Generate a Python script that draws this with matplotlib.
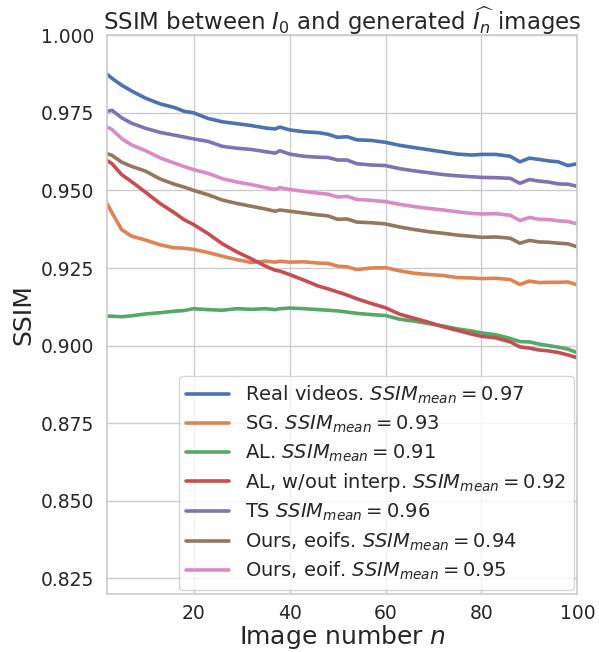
import numpy as np
import matplotlib
matplotlib.use('Agg')
import matplotlib.pyplot as plt
import seaborn as sns

# image index n (at these points)
n = [2, 3, 5, 7, 10, 13, 16, 18, 20, 23, 26, 29, 32, 35, 37, 38, 40, 43, 46, 48,
     50, 52, 54, 57, 60, 63, 66, 69, 72, 75, 78, 80, 83, 86, 88, 90, 92, 94, 96, 98, 100]

real_videos = [0.9874, 0.9861, 0.9839, 0.9821, 0.9797, 0.9779, 0.9767, 0.9755, 0.9750, 0.9732,
               0.9721, 0.9715, 0.9709, 0.9701, 0.9698, 0.9704, 0.9695, 0.9689, 0.9686, 0.9681,
               0.9671, 0.9673, 0.9663, 0.9661, 0.9655, 0.9645, 0.9638, 0.9631, 0.9624, 0.9617,
               0.9614, 0.9616, 0.9616, 0.9610, 0.9592, 0.9604, 0.9600, 0.9595, 0.9592, 0.9580, 0.9586]
sg = [0.9457, 0.9428, 0.9374, 0.9353, 0.9340, 0.9325, 0.9315, 0.9314, 0.9310, 0.9300,
      0.9288, 0.9277, 0.9268, 0.9272, 0.9269, 0.9272, 0.9269, 0.9270, 0.9266, 0.9265,
      0.9256, 0.9254, 0.9245, 0.9250, 0.9251, 0.9241, 0.9233, 0.9229, 0.9226, 0.9219,
      0.9218, 0.9216, 0.9217, 0.9213, 0.9197, 0.9208, 0.9203, 0.9204, 0.9204, 0.9205, 0.9196]
al = [0.9095, 0.9095, 0.9093, 0.9096, 0.9102, 0.9106, 0.9111, 0.9113, 0.9119, 0.9116,
      0.9114, 0.9119, 0.9117, 0.9119, 0.9116, 0.9119, 0.9121, 0.9119, 0.9116, 0.9114,
      0.9112, 0.9108, 0.9104, 0.9100, 0.9097, 0.9085, 0.9079, 0.9071, 0.9063, 0.9054,
      0.9047, 0.9041, 0.9035, 0.9023, 0.9013, 0.9012, 0.9005, 0.9000, 0.8995, 0.8989, 0.8977]
al_no_interp = [0.9596, 0.9586, 0.9551, 0.9529, 0.9494, 0.9458, 0.9428, 0.9406, 0.9390, 0.9361,
                0.9328, 0.9302, 0.9280, 0.9256, 0.9243, 0.9240, 0.9229, 0.9211, 0.9192, 0.9183,
                0.9173, 0.9163, 0.9151, 0.9136, 0.9122, 0.9101, 0.9088, 0.9075, 0.9061, 0.9049,
                0.9037, 0.9030, 0.9025, 0.9012, 0.8996, 0.8992, 0.8986, 0.8983, 0.8978, 0.8970, 0.8961]
ts = [0.9755, 0.9758, 0.9734, 0.9717, 0.9700, 0.9687, 0.9678, 0.9672, 0.9666, 0.9658,
      0.9642, 0.9636, 0.9632, 0.9625, 0.9620, 0.9628, 0.9617, 0.9610, 0.9607, 0.9606,
      0.9598, 0.9598, 0.9586, 0.9582, 0.9580, 0.9570, 0.9563, 0.9557, 0.9551, 0.9547,
      0.9544, 0.9542, 0.9541, 0.9539, 0.9523, 0.9535, 0.9530, 0.9527, 0.9521, 0.9520, 0.9513]
ours_eoifs = [0.9618, 0.9613, 0.9591, 0.9578, 0.9562, 0.9537, 0.9520, 0.9511, 0.9500, 0.9486,
              0.9469, 0.9458, 0.9449, 0.9440, 0.9433, 0.9437, 0.9433, 0.9427, 0.9421, 0.9418,
              0.9407, 0.9408, 0.9398, 0.9396, 0.9392, 0.9382, 0.9374, 0.9367, 0.9362, 0.9356,
              0.9352, 0.9349, 0.9350, 0.9346, 0.9330, 0.9339, 0.9334, 0.9333, 0.9330, 0.9328, 0.9318]
ours_eoif = [0.9704, 0.9696, 0.9667, 0.9647, 0.9628, 0.9605, 0.9588, 0.9577, 0.9567, 0.9555,
             0.9538, 0.9527, 0.9519, 0.9509, 0.9503, 0.9509, 0.9503, 0.9497, 0.9491, 0.9488,
             0.9479, 0.9481, 0.9471, 0.9468, 0.9464, 0.9455, 0.9448, 0.9442, 0.9437, 0.9431,
             0.9426, 0.9424, 0.9425, 0.9420, 0.9403, 0.9413, 0.9407, 0.9406, 0.9402, 0.9400, 0.9392]

series = [real_videos, sg, al, al_no_interp, ts, ours_eoifs, ours_eoif]
labels = [r'Real videos. $SSIM_{mean} = 0.97$',
          r'SG. $SSIM_{mean} = 0.93$',
          r'AL. $SSIM_{mean} = 0.91$',
          r'AL, w/out interp. $SSIM_{mean} = 0.92$',
          r'TS $SSIM_{mean} = 0.96$',
          r'Ours, eoifs. $SSIM_{mean} = 0.94$',
          r'Ours, eoif. $SSIM_{mean} = 0.95$']

sns.set_theme(style='whitegrid')
colors = sns.color_palette('deep')

fig = plt.figure(figsize=(5.99, 6.52), dpi=100)
ax = fig.add_axes([0.179, 0.089, 0.785, 0.857])

for i, s in enumerate(series):
    ax.plot(n, s, color=colors[i], linewidth=2.6, label=labels[i])

ax.set_xlim(2, 100)
ax.set_ylim(0.82, 1.0)
ax.set_xticks([20, 40, 60, 80, 100])
ax.set_yticks(np.arange(0.825, 1.0001, 0.025))
ax.tick_params(labelsize=13.5)
ax.tick_params(axis='x', pad=1.5)
ax.yaxis.set_major_formatter(matplotlib.ticker.FormatStrFormatter('%.3f'))

ax.set_xlabel(r'Image number $n$', fontsize=18, labelpad=0)
ax.set_ylabel('SSIM', fontsize=18)
ax.set_title(r'SSIM between $I_0$ and generated $\widehat{I_n}$ images', fontsize=16.5, pad=4)

ax.legend(loc='lower right', fontsize=14, borderaxespad=0.2, handlelength=2.2,
          labelspacing=0.38, handletextpad=0.8)

fig.savefig('out.png', dpi=100)
